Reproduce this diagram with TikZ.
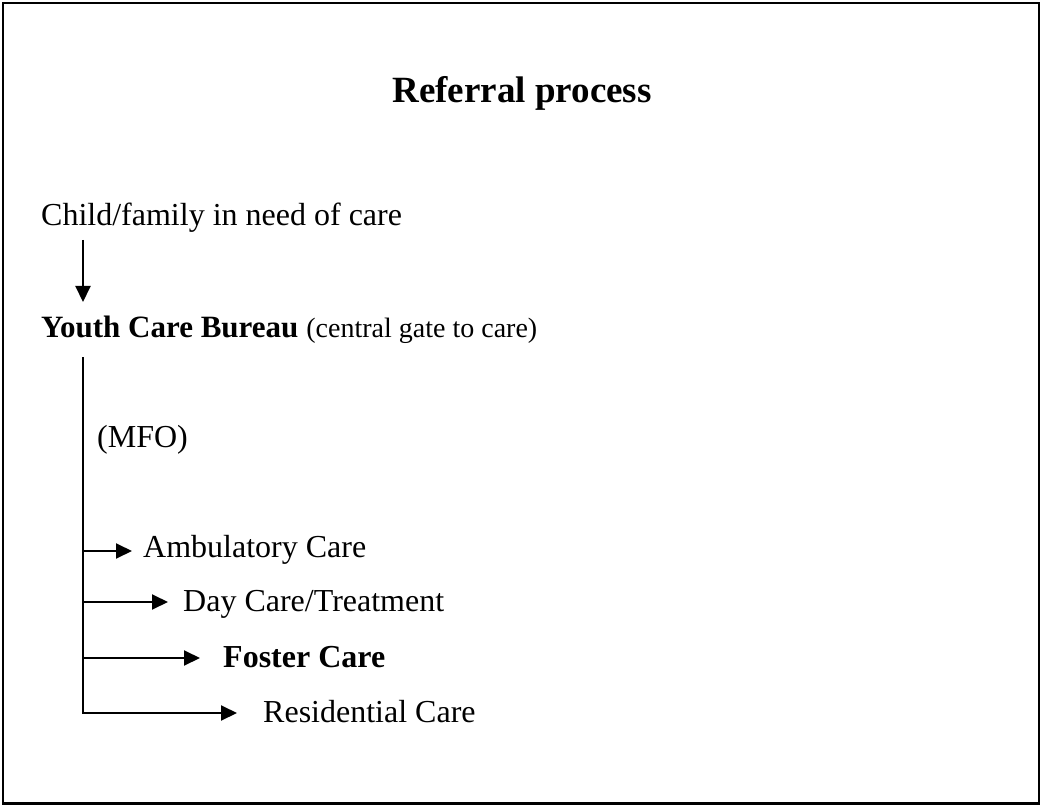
\documentclass[tikz,border=0pt]{standalone}
\usepackage{fontspec}
\setmainfont{Liberation Serif}
\usetikzlibrary{arrows.meta}
\begin{document}
\begin{tikzpicture}[x=1pt,y=-1pt,
  lbl/.style={anchor=base west,inner sep=0pt,font=\fontsize{32}{38}\selectfont},
  arr/.style={line width=2pt,-{Triangle[length=16pt,width=15pt]}},
  ln/.style={line width=2pt}]
\useasboundingbox (0,0) rectangle (1042,805);
\draw[line width=2.5pt] (3,3) rectangle (1039,803.5);
\node[anchor=base,inner sep=0pt,font=\fontsize{37}{44}\selectfont\bfseries] (title) at (522,103) {Referral process};
\node[lbl] (child) at (41,226) {Child/family in need of care};
\node[lbl] (youth) at (41,337) {{\fontsize{31}{38}\selectfont\bfseries Youth Care Bureau} {\fontsize{28}{34}\selectfont(central gate to care)}};
\node[lbl] (mfo) at (97,447) {(MFO)};
\node[lbl] (amb) at (143,557) {Ambulatory Care};
\node[lbl] (day) at (183,611) {Day Care/Treatment};
\node[lbl] (foster) at (223,667) {\textbf{Foster Care}};
\node[lbl] (res) at (263,722) {Residential Care};
\coordinate (a0) at (83,240);
\coordinate (a1) at (83,302);
\draw[arr] (a0) -- (a1);
\coordinate (top) at (83,357);
\coordinate (b1) at (83,551);
\coordinate (b2) at (83,602);
\coordinate (b3) at (83,658);
\coordinate (b4) at (83,713);
\draw[ln] (top) -- (b4);
\draw[arr] (b1) -- ++(49,0);
\draw[arr] (b2) -- ++(85,0);
\draw[arr] (b3) -- ++(117,0);
\draw[arr] ([xshift=-1pt]b4) -- ++(155,0);
\end{tikzpicture}
\end{document}
